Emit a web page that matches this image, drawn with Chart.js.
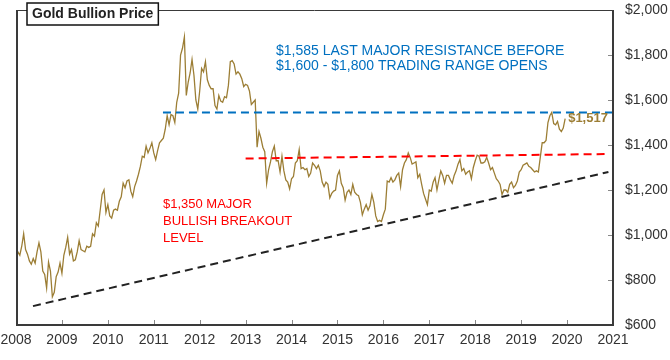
<!DOCTYPE html>
<html>
<head>
<meta charset="utf-8">
<script src="https://cdn.jsdelivr.net/npm/chart.js@4.4.1/dist/chart.umd.min.js"></script>
<style>
  html, body { margin: 0; padding: 0; background: #fff; }
  canvas { display: block; }
</style>
</head>
<body>
<canvas id="c" width="670" height="360"></canvas>
<script>
// ---- Data (semi-monthly gold price, USD/oz) ----
const startYear = 2008;
const pointsPerYear = 24;
const prices2008 = [880, 925, 910, 950, 1005, 935, 915, 885, 870, 895, 875, 925, 965, 925, 840, 825, 765, 880, 840, 725, 745, 815, 835, 875];
const prices2009 = [830, 910, 945, 990, 915, 935, 885, 890, 925, 975, 935, 930, 925, 950, 945, 950, 1005, 995, 1055, 1040, 1110, 1180, 1200, 1100];
const prices2010 = [1135, 1085, 1075, 1110, 1115, 1110, 1150, 1170, 1230, 1210, 1240, 1245, 1195, 1170, 1215, 1240, 1270, 1305, 1350, 1345, 1395, 1365, 1385, 1410];
const prices2011 = [1365, 1335, 1375, 1410, 1420, 1430, 1470, 1530, 1490, 1535, 1530, 1500, 1590, 1630, 1800, 1830, 1880, 1620, 1680, 1720, 1780, 1710, 1600, 1560];
const prices2012 = [1640, 1740, 1725, 1770, 1690, 1665, 1650, 1650, 1575, 1560, 1620, 1595, 1590, 1615, 1610, 1665, 1770, 1775, 1760, 1715, 1725, 1715, 1695, 1660];
const prices2013 = [1670, 1665, 1640, 1580, 1590, 1600, 1390, 1460, 1430, 1390, 1370, 1230, 1290, 1325, 1370, 1395, 1330, 1330, 1280, 1350, 1285, 1245, 1235, 1205];
const prices2014 = [1250, 1260, 1320, 1330, 1380, 1295, 1300, 1290, 1295, 1260, 1275, 1320, 1310, 1295, 1310, 1285, 1235, 1215, 1235, 1225, 1165, 1185, 1195, 1200];
const prices2015 = [1265, 1285, 1230, 1210, 1155, 1190, 1200, 1180, 1225, 1190, 1180, 1175, 1145, 1090, 1115, 1135, 1110, 1130, 1180, 1145, 1085, 1060, 1065, 1060];
const prices2016 = [1090, 1115, 1240, 1235, 1255, 1235, 1245, 1265, 1275, 1215, 1290, 1320, 1335, 1365, 1345, 1315, 1320, 1325, 1255, 1270, 1225, 1185, 1160, 1135];
const prices2017 = [1200, 1195, 1235, 1255, 1200, 1245, 1285, 1265, 1230, 1265, 1265, 1245, 1230, 1265, 1285, 1315, 1335, 1285, 1295, 1270, 1280, 1285, 1250, 1300];
const prices2018 = [1330, 1355, 1350, 1320, 1320, 1325, 1345, 1320, 1290, 1300, 1275, 1250, 1240, 1225, 1180, 1200, 1200, 1190, 1225, 1235, 1210, 1220, 1240, 1280];
const prices2019 = [1290, 1310, 1315, 1320, 1305, 1300, 1290, 1280, 1285, 1280, 1345, 1410, 1410, 1420, 1500, 1530, 1545, 1495, 1490, 1505, 1470, 1460, 1475, 1517];

const resistanceX = [2011.2, 2021.0];
const resistanceY = [1545, 1545];
const breakoutX = [2013.0, 2020.9];
const breakoutY = [1340, 1360];
const trendX = [2008.37, 2020.9];
const trendY = [684, 1280];

const xTicks = [2008, 2009, 2010, 2011, 2012, 2013, 2014, 2015, 2016, 2017, 2018, 2019, 2020, 2021];
const yTicks = [600, 800, 1000, 1200, 1400, 1600, 1800, 2000];

const titleText = 'Gold Bullion Price';
const resistanceText = ['$1,585 LAST MAJOR RESISTANCE BEFORE', '$1,600 - $1,800 TRADING RANGE OPENS'];
const breakoutText = ['$1,350 MAJOR', 'BULLISH BREAKOUT', 'LEVEL'];

// ---- Build series ----
const allPrices = [].concat(prices2008, prices2009, prices2010, prices2011, prices2012, prices2013,
  prices2014, prices2015, prices2016, prices2017, prices2018, prices2019);
const goldPoints = allPrices.map((v, i) => ({ x: startYear + i / pointsPerYear, y: v }));
const pairs = (xs, ys) => xs.map((x, i) => ({ x: x, y: ys[i] }));

const GOLD = '#9c7e35';
const FONT = '"Liberation Sans", Arial, sans-serif';

const decorPlugin = {
  id: 'decor',
  afterDraw(chart) {
    const { ctx, chartArea: { left, right, top, bottom }, scales: { x, y } } = chart;
    ctx.save();
    // frame
    ctx.strokeStyle = '#3a3a3a';
    ctx.lineWidth = 1;
    ctx.beginPath();
    ctx.moveTo(left, top + 0.5); ctx.lineTo(right, top + 0.5);
    ctx.stroke();
    ctx.lineWidth = 2;
    ctx.beginPath();
    ctx.moveTo(left + 1, top); ctx.lineTo(left + 1, bottom);
    ctx.lineTo(right, bottom); ctx.lineTo(right, top);
    ctx.stroke();
    // inward ticks
    ctx.lineWidth = 1;
    ctx.strokeStyle = '#888';
    xTicks.forEach(v => {
      const px = Math.round(x.getPixelForValue(v)) + 0.5;
      if (v === xTicks[0] || v === xTicks[xTicks.length - 1]) return;
      ctx.beginPath(); ctx.moveTo(px, bottom - 1); ctx.lineTo(px, bottom - 5); ctx.stroke();
    });
    yTicks.forEach(v => {
      const py = Math.round(y.getPixelForValue(v)) + 0.5;
      if (v === yTicks[0] || v === yTicks[yTicks.length - 1]) return;
      ctx.beginPath(); ctx.moveTo(right - 1, py); ctx.lineTo(right - 5, py); ctx.stroke();
    });

    // title box
    ctx.font = 'bold 14px ' + FONT;
    const tw = ctx.measureText(titleText).width;
    ctx.fillStyle = '#fff';
    ctx.fillRect(27, 3, tw + 10, 22);
    ctx.strokeStyle = '#111';
    ctx.lineWidth = 1.5;
    ctx.strokeRect(27, 3, tw + 10, 22);
    ctx.fillStyle = '#222';
    ctx.textBaseline = 'middle';
    ctx.textAlign = 'left';
    ctx.fillText(titleText, 32, 14.5);

    // blue annotation
    ctx.font = '14px ' + FONT;
    ctx.fillStyle = '#0070c0';
    resistanceText.forEach((t, i) => ctx.fillText(t, 276, 51 + i * 15.5));

    // red annotation
    ctx.font = '13px ' + FONT;
    ctx.fillStyle = '#ff0000';
    breakoutText.forEach((t, i) => ctx.fillText(t, 163, 204 + i * 17));

    // last value label
    const last = goldPoints[goldPoints.length - 1];
    ctx.font = 'bold 13px ' + FONT;
    ctx.fillStyle = GOLD;
    ctx.fillText('$' + last.y.toLocaleString('en-US'), x.getPixelForValue(last.x) + 3, y.getPixelForValue(last.y));
    ctx.restore();
  }
};

new Chart(document.getElementById('c'), {
  type: 'line',
  data: {
    datasets: [
      { data: pairs(resistanceX, resistanceY), borderColor: '#0070c0', borderWidth: 2, borderDash: [8, 5], pointRadius: 0, clip: false },
      { data: pairs(breakoutX, breakoutY), borderColor: '#ff0000', borderWidth: 2, borderDash: [8, 5], pointRadius: 0 },
      { data: pairs(trendX, trendY), borderColor: '#222', borderWidth: 2, borderDash: [8, 5], pointRadius: 0 },
      { data: goldPoints, borderColor: GOLD, borderWidth: 1.3, pointRadius: 0, tension: 0 }
    ]
  },
  options: {
    responsive: false,
    animation: false,
    layout: { padding: { left: 16, top: 10, right: 0, bottom: 0 } },
    plugins: { legend: { display: false }, tooltip: { enabled: false } },
    scales: {
      x: {
        type: 'linear',
        min: 2008, max: 2021,
        afterBuildTicks: s => { s.ticks = xTicks.map(v => ({ value: v })); },
        afterFit: s => { s.height = 35; s.paddingLeft = 0; s.paddingRight = 0; },
        grid: { display: false, drawTicks: false },
        border: { display: false },
        ticks: { padding: 7, color: '#333', font: { family: FONT, size: 14 }, callback: v => String(v), maxRotation: 0, autoSkip: false }
      },
      y: {
        type: 'linear',
        position: 'right',
        min: 600, max: 2000,
        afterBuildTicks: s => { s.ticks = yTicks.map(v => ({ value: v })); },
        afterFit: s => { s.width = 57; s.paddingTop = 0; s.paddingBottom = 0; },
        grid: { display: false, drawTicks: false },
        border: { display: false },
        ticks: { padding: 12, color: '#333', font: { family: FONT, size: 14 }, callback: v => '$' + v.toLocaleString('en-US') }
      }
    }
  },
  plugins: [decorPlugin]
});
</script>
</body>
</html>
